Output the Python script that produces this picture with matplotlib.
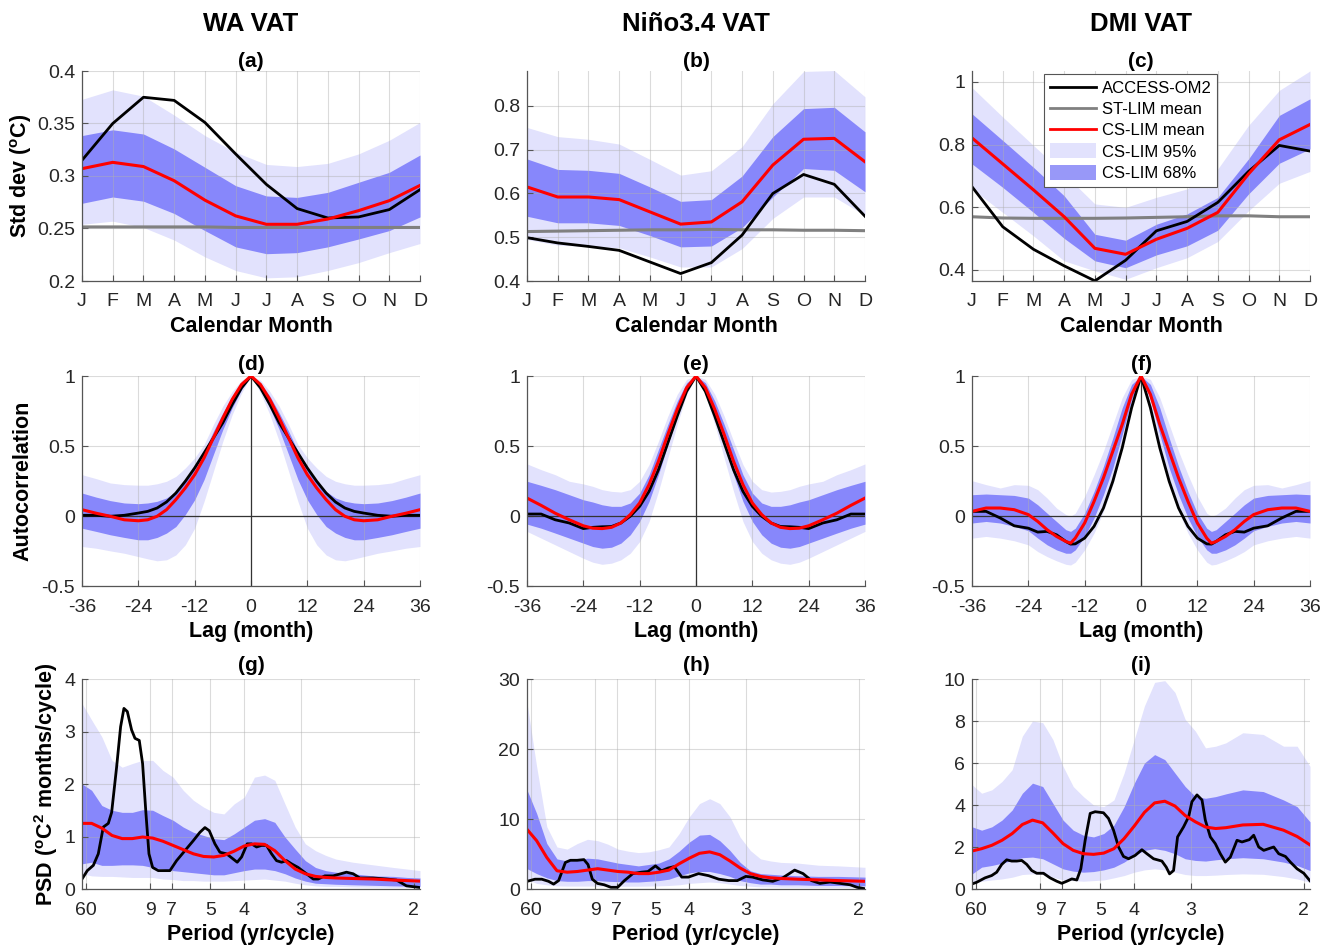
import numpy as np
import matplotlib
matplotlib.use("Agg")
import matplotlib.pyplot as plt
from matplotlib.lines import Line2D
from matplotlib.patches import Patch

plt.rcParams['font.family'] = ['Liberation Sans', 'DejaVu Sans']
plt.rcParams['mathtext.fontset'] = 'custom'
plt.rcParams['mathtext.rm'] = 'Liberation Sans'
plt.rcParams['mathtext.bf'] = 'Liberation Sans:bold'
plt.rcParams['axes.unicode_minus'] = False

C95 = '#e2e2fd'
C68 = '#8787fb'

# ---------------- row 1: monthly std dev ----------------
months = np.arange(1, 13)
month_labels = ['J', 'F', 'M', 'A', 'M', 'J', 'J', 'A', 'S', 'O', 'N', 'D']

wa_om2 = [0.315, 0.350, 0.375, 0.372, 0.351, 0.321, 0.292, 0.269, 0.260, 0.261, 0.268, 0.287]
wa_cs = [0.307, 0.313, 0.309, 0.2955, 0.277, 0.262, 0.254, 0.254, 0.259, 0.267, 0.2765, 0.291]
wa_st = [0.2515, 0.2515, 0.2515, 0.2515, 0.2515, 0.251, 0.251, 0.251, 0.251, 0.251, 0.251, 0.251]
wa_u95 = [0.373, 0.382, 0.376, 0.358, 0.3385, 0.3226, 0.311, 0.309, 0.312, 0.321, 0.334, 0.351]
wa_u68 = [0.3385, 0.344, 0.340, 0.3258, 0.3083, 0.2908, 0.281, 0.2796, 0.2844, 0.294, 0.3035, 0.320]
wa_l68 = [0.274, 0.280, 0.276, 0.2643, 0.248, 0.2325, 0.226, 0.227, 0.2325, 0.240, 0.248, 0.261]
wa_l95 = [0.254, 0.257, 0.251, 0.239, 0.223, 0.210, 0.203, 0.204, 0.210, 0.2175, 0.227, 0.2357]

ni_om2 = [0.499, 0.487, 0.479, 0.470, 0.4435, 0.417, 0.442, 0.505, 0.600, 0.6435, 0.621, 0.548]
ni_cs = [0.615, 0.592, 0.592, 0.586, 0.558, 0.530, 0.535, 0.581, 0.665, 0.724, 0.726, 0.6725]
ni_st = [0.513, 0.514, 0.515, 0.516, 0.517, 0.517, 0.518, 0.517, 0.517, 0.516, 0.516, 0.515]
ni_u95 = [0.751, 0.730, 0.724, 0.713, 0.678, 0.642, 0.652, 0.707, 0.805, 0.879, 0.881, 0.821]
ni_u68 = [0.679, 0.655, 0.653, 0.646, 0.615, 0.582, 0.586, 0.640, 0.730, 0.794, 0.797, 0.741]
ni_l68 = [0.548, 0.533, 0.533, 0.527, 0.504, 0.478, 0.480, 0.522, 0.592, 0.657, 0.653, 0.604]
ni_l95 = [0.495, 0.482, 0.479, 0.476, 0.455, 0.432, 0.432, 0.474, 0.543, 0.592, 0.592, 0.550]

dmi_om2 = [0.665, 0.537, 0.465, 0.412, 0.364, 0.430, 0.524, 0.554, 0.615, 0.714, 0.797, 0.779]
dmi_cs = [0.821, 0.738, 0.655, 0.569, 0.468, 0.449, 0.497, 0.532, 0.583, 0.706, 0.815, 0.864]
dmi_st = [0.569, 0.565, 0.564, 0.564, 0.564, 0.565, 0.567, 0.569, 0.572, 0.572, 0.569, 0.569]
dmi_u95 = [0.982, 0.888, 0.797, 0.706, 0.610, 0.599, 0.631, 0.658, 0.722, 0.861, 0.973, 1.035]
dmi_u68 = [0.898, 0.813, 0.727, 0.636, 0.513, 0.494, 0.545, 0.578, 0.631, 0.754, 0.893, 0.946]
dmi_l68 = [0.738, 0.663, 0.583, 0.500, 0.428, 0.406, 0.447, 0.476, 0.526, 0.642, 0.740, 0.786]
dmi_l95 = [0.658, 0.583, 0.508, 0.428, 0.396, 0.369, 0.406, 0.438, 0.490, 0.588, 0.676, 0.714]

# ---------------- row 2: autocorrelation (lag >= 0, symmetric) ----------------
lags_de = [0, 2, 4, 6, 8, 10, 12, 14, 16, 18, 20, 22, 24, 27, 30, 33, 36]
lags_f = [0, 2, 4, 6, 8, 10, 12, 14, 15, 16, 18, 20, 22, 24, 27, 30, 33, 36]

d_om2 = [1, 0.916, 0.797, 0.666, 0.558, 0.45, 0.343, 0.248, 0.164, 0.10, 0.057, 0.033, 0.021, 0.005, -0.002, 0.005, 0.005]
d_cs = [1, 0.94, 0.833, 0.70, 0.558, 0.415, 0.295, 0.20, 0.117, 0.045, -0.002, -0.027, -0.034, -0.027, -0.002, 0.02, 0.045]
d_u95 = [1, 0.97, 0.89, 0.785, 0.654, 0.51, 0.415, 0.343, 0.283, 0.248, 0.23, 0.22, 0.22, 0.224, 0.236, 0.267, 0.295]
d_u68 = [1, 0.95, 0.857, 0.737, 0.606, 0.463, 0.343, 0.248, 0.176, 0.129, 0.105, 0.093, 0.088, 0.093, 0.11, 0.135, 0.164]
d_l68 = [1, 0.904, 0.773, 0.618, 0.44, 0.26, 0.116, 0.01, -0.075, -0.122, -0.153, -0.17, -0.17, -0.153, -0.134, -0.11, -0.087]
d_l95 = [1, 0.88, 0.725, 0.534, 0.32, 0.104, -0.087, -0.206, -0.278, -0.313, -0.32, -0.306, -0.29, -0.266, -0.249, -0.23, -0.218]

e_om2 = [1, 0.89, 0.713, 0.522, 0.33, 0.176, 0.069, -0.002, -0.05, -0.075, -0.077, -0.081, -0.09, -0.05, -0.027, 0.014, 0.014]
e_cs = [1, 0.916, 0.761, 0.582, 0.39, 0.224, 0.093, 0.01, -0.05, -0.081, -0.09, -0.087, -0.07, -0.027, 0.02, 0.076, 0.128]
e_u95 = [1, 0.976, 0.869, 0.713, 0.534, 0.367, 0.248, 0.188, 0.171, 0.176, 0.188, 0.212, 0.229, 0.248, 0.295, 0.331, 0.372]
e_u68 = [1, 0.952, 0.821, 0.654, 0.475, 0.295, 0.164, 0.093, 0.069, 0.069, 0.08, 0.10, 0.116, 0.152, 0.188, 0.219, 0.248]
e_l68 = [1, 0.89, 0.713, 0.51, 0.295, 0.104, -0.039, -0.134, -0.194, -0.223, -0.23, -0.218, -0.194, -0.158, -0.122, -0.087, -0.058]
e_l95 = [1, 0.869, 0.654, 0.415, 0.176, -0.039, -0.182, -0.266, -0.313, -0.337, -0.345, -0.33, -0.302, -0.254, -0.206, -0.158, -0.11]

f_om2 = [1, 0.773, 0.487, 0.248, 0.057, -0.074, -0.158, -0.199, -0.201, -0.182, -0.134, -0.11, -0.115, -0.087, -0.07, -0.014, 0.033, 0.033]
f_cs = [1, 0.869, 0.654, 0.463, 0.272, 0.104, -0.05, -0.158, -0.194, -0.182, -0.146, -0.098, -0.039, 0.01, 0.045, 0.057, 0.057, 0.033]
f_u95 = [1, 0.976, 0.845, 0.654, 0.463, 0.295, 0.14, 0.02, -0.002, 0.01, 0.057, 0.128, 0.188, 0.219, 0.224, 0.20, 0.224, 0.252]
f_u68 = [1, 0.94, 0.773, 0.558, 0.355, 0.176, 0.02, -0.087, -0.11, -0.098, -0.039, 0.02, 0.08, 0.128, 0.147, 0.152, 0.157, 0.152]
f_l68 = [1, 0.833, 0.582, 0.343, 0.152, -0.014, -0.146, -0.242, -0.266, -0.266, -0.242, -0.206, -0.158, -0.105, -0.074, -0.05, -0.039, -0.05]
f_l95 = [1, 0.773, 0.487, 0.224, 0.033, -0.122, -0.242, -0.33, -0.35, -0.345, -0.32, -0.29, -0.254, -0.206, -0.177, -0.158, -0.146, -0.158]

# ---------------- row 3: power spectra (frequency in cycles/yr) ----------------
freq = [0.011, 0.025, 0.04, 0.055, 0.07, 0.085, 0.10, 0.115, 0.13, 0.145, 0.16, 0.175, 0.19, 0.205,
        0.22, 0.235, 0.25, 0.265, 0.28, 0.295, 0.31, 0.325, 0.34, 0.355, 0.37, 0.385, 0.41, 0.44,
        0.47, 0.49, 0.509]

g_u95 = [3.53, 3.22, 2.9, 2.45, 2.32, 2.39, 2.45, 2.45, 2.26, 2.13, 1.88, 1.69, 1.56, 1.46, 1.43, 1.62,
         1.75, 2.13, 2.17, 2.07, 1.62, 1.18, 0.86, 0.73, 0.64, 0.57, 0.51, 0.46, 0.41, 0.38, 0.35]
g_u68 = [2.0, 1.88, 1.59, 1.5, 1.46, 1.46, 1.51, 1.5, 1.4, 1.31, 1.18, 1.08, 1.02, 0.96, 0.94, 1.05,
         1.18, 1.31, 1.34, 1.27, 0.99, 0.76, 0.54, 0.41, 0.35, 0.32, 0.29, 0.25, 0.24, 0.22, 0.21]
g_l68 = [0.48, 0.51, 0.45, 0.45, 0.46, 0.46, 0.45, 0.41, 0.38, 0.35, 0.33, 0.31, 0.29, 0.27, 0.27, 0.31,
         0.35, 0.38, 0.38, 0.35, 0.29, 0.21, 0.15, 0.11, 0.10, 0.09, 0.08, 0.07, 0.06, 0.055, 0.05]
g_l95 = [0.29, 0.25, 0.24, 0.24, 0.23, 0.22, 0.22, 0.22, 0.19, 0.18, 0.16, 0.16, 0.15, 0.15, 0.15, 0.16,
         0.17, 0.18, 0.19, 0.17, 0.15, 0.11, 0.08, 0.06, 0.05, 0.05, 0.04, 0.035, 0.03, 0.03, 0.03]
g_cs = [1.25, 1.25, 1.16, 1.02, 0.96, 0.96, 0.99, 0.97, 0.91, 0.83, 0.75, 0.67, 0.62, 0.61, 0.64, 0.72,
        0.82, 0.86, 0.85, 0.73, 0.54, 0.38, 0.29, 0.24, 0.22, 0.21, 0.20, 0.19, 0.17, 0.16, 0.15]
g_freq = [0.0118, 0.0186, 0.0275, 0.0348, 0.0422, 0.0496, 0.0545, 0.0618, 0.0677, 0.0726, 0.0776, 0.0839,
          0.0889, 0.0952, 0.1001, 0.1051, 0.1095, 0.1149, 0.1232, 0.1404, 0.1502, 0.1625, 0.1748, 0.1846,
          0.1920, 0.1984, 0.2067, 0.2141, 0.2239, 0.2337, 0.2396, 0.2460, 0.2543, 0.2607, 0.2681, 0.2754,
          0.2828, 0.2902, 0.2975, 0.3049, 0.3123, 0.3196, 0.3294, 0.3417, 0.3516, 0.3589, 0.3687, 0.3810,
          0.4006, 0.4105, 0.4203, 0.4399, 0.4596, 0.4743, 0.4890, 0.5077]
g_om2 = [0.21, 0.35, 0.45, 0.67, 1.18, 1.25, 1.46, 2.32, 3.09, 3.44, 3.38, 3.03, 2.87, 2.83, 2.39, 1.43,
         0.67, 0.41, 0.35, 0.35, 0.54, 0.73, 0.92, 1.08, 1.17, 1.11, 0.86, 0.70, 0.67, 0.57, 0.51, 0.61,
         0.86, 0.86, 0.80, 0.83, 0.83, 0.67, 0.54, 0.51, 0.54, 0.48, 0.41, 0.29, 0.19, 0.19, 0.25, 0.25,
         0.32, 0.29, 0.21, 0.21, 0.19, 0.17, 0.06, 0.03]

h_u95 = [26.5, 17.5, 8.9, 6.0, 5.7, 6.5, 7.1, 6.9, 6.4, 5.7, 5.4, 5.2, 5.3, 5.6, 6.0, 7.9, 10.3, 12.2,
         12.9, 12.2, 10.3, 7.4, 5.5, 4.3, 4.0, 3.8, 3.7, 3.4, 3.3, 3.2, 3.1]
h_u68 = [14.1, 10.8, 6.5, 4.3, 4.0, 4.2, 4.4, 4.3, 4.0, 3.7, 3.5, 3.3, 3.5, 3.7, 4.3, 5.4, 6.7, 7.7,
         7.8, 6.9, 5.5, 3.8, 2.6, 2.2, 2.1, 2.0, 1.9, 1.8, 1.8, 1.75, 1.7]
h_l68 = [2.9, 2.2, 1.6, 1.2, 1.1, 1.1, 1.2, 1.2, 1.1, 1.05, 1.0, 1.0, 1.1, 1.2, 1.4, 1.9, 2.3, 2.5,
         2.5, 2.2, 1.8, 1.2, 0.9, 0.7, 0.7, 0.6, 0.6, 0.5, 0.5, 0.47, 0.45]
h_l95 = [1.4, 0.8, 0.6, 0.45, 0.42, 0.42, 0.42, 0.42, 0.4, 0.4, 0.4, 0.4, 0.42, 0.45, 0.5, 0.6, 0.8, 0.9,
         1.0, 0.9, 0.7, 0.5, 0.4, 0.3, 0.28, 0.25, 0.24, 0.22, 0.21, 0.2, 0.2]
h_cs = [8.5, 6.9, 4.5, 2.6, 2.4, 2.5, 2.7, 2.9, 2.7, 2.5, 2.4, 2.2, 2.2, 2.4, 2.7, 3.6, 4.4, 5.1,
        5.3, 4.9, 4.0, 3.0, 2.2, 1.8, 1.6, 1.5, 1.4, 1.3, 1.2, 1.15, 1.1]
h_freq = [0.0112, 0.0226, 0.0326, 0.0425, 0.0500, 0.0574, 0.0674, 0.0748, 0.0848, 0.0947, 0.1007, 0.1071,
          0.1146, 0.1246, 0.1345, 0.1444, 0.1544, 0.1668, 0.1792, 0.1891, 0.2001, 0.2090, 0.2190, 0.2279,
          0.2389, 0.2488, 0.2637, 0.2786, 0.2935, 0.3084, 0.3208, 0.3333, 0.3432, 0.3581, 0.3730, 0.3879,
          0.4053, 0.4177, 0.4301, 0.4426, 0.4575, 0.4724, 0.4873, 0.4973, 0.508]
h_om2 = [1.1, 1.4, 1.4, 1.1, 0.7, 1.2, 3.8, 4.1, 4.1, 4.2, 3.5, 1.4, 0.8, 0.6, 0.24, 0.24, 1.2, 2.2,
         2.4, 2.5, 3.3, 2.6, 3.0, 3.2, 1.7, 1.7, 2.2, 1.9, 1.4, 1.2, 1.2, 1.8, 1.7, 1.3, 1.1, 1.6, 2.7,
         2.2, 1.2, 0.8, 1.0, 0.8, 0.6, 0.24, 0.05]

i_u95 = [4.96, 4.56, 4.72, 5.12, 5.68, 7.28, 8.0, 7.92, 7.12, 5.84, 4.88, 4.4, 4.0, 3.92, 4.24, 5.52,
         7.12, 8.72, 9.84, 9.92, 9.36, 8.08, 7.52, 6.72, 6.8, 6.96, 7.44, 7.36, 6.8, 6.8, 5.84]
i_u68 = [2.96, 2.8, 2.96, 3.28, 3.76, 4.56, 5.04, 4.88, 4.08, 3.28, 2.8, 2.56, 2.48, 2.64, 3.04, 3.92,
         5.04, 6.0, 6.4, 6.16, 5.52, 4.88, 4.4, 4.32, 4.4, 4.53, 4.72, 4.64, 4.24, 3.92, 3.2]
i_l68 = [0.72, 1.04, 1.12, 1.23, 1.36, 1.49, 1.52, 1.44, 1.2, 0.96, 0.85, 0.8, 0.83, 0.91, 1.04, 1.28,
         1.6, 1.84, 1.92, 1.84, 1.68, 1.44, 1.36, 1.33, 1.39, 1.44, 1.49, 1.44, 1.28, 1.12, 0.88]
i_l95 = [0.24, 0.37, 0.43, 0.48, 0.56, 0.69, 0.72, 0.69, 0.56, 0.43, 0.4, 0.37, 0.4, 0.43, 0.53, 0.64,
         0.8, 0.91, 0.96, 0.91, 0.8, 0.69, 0.64, 0.64, 0.66, 0.69, 0.72, 0.7, 0.59, 0.48, 0.32]
i_cs = [1.81, 1.92, 2.08, 2.32, 2.64, 3.07, 3.28, 3.15, 2.67, 2.16, 1.84, 1.68, 1.65, 1.71, 1.92, 2.4,
        3.0, 3.65, 4.1, 4.18, 3.95, 3.5, 3.2, 2.95, 2.88, 2.92, 3.05, 3.08, 2.8, 2.5, 2.1]
i_freq = [0.0108, 0.0177, 0.0300, 0.0398, 0.0472, 0.0546, 0.0619, 0.0693, 0.0767, 0.0841, 0.0915, 0.0988,
          0.1062, 0.1161, 0.1259, 0.1357, 0.1431, 0.1505, 0.1579, 0.1653, 0.1712, 0.1776, 0.1850, 0.1923,
          0.2046, 0.2120, 0.2194, 0.2268, 0.2341, 0.2415, 0.2513, 0.2612, 0.2686, 0.2784, 0.2907, 0.2971,
          0.3020, 0.3079, 0.3138, 0.3227, 0.3301, 0.3350, 0.3424, 0.3498, 0.3547, 0.3621, 0.3694, 0.3768,
          0.3842, 0.3916, 0.4014, 0.4088, 0.4196, 0.4260, 0.4334, 0.4408, 0.4481, 0.4555, 0.4629, 0.4728,
          0.4801, 0.4900, 0.4998, 0.5087]
i_om2 = [0.24, 0.32, 0.53, 0.64, 0.8, 1.17, 1.39, 1.33, 1.33, 1.36, 1.17, 0.88, 0.75, 0.75, 0.53, 0.37,
         0.27, 0.37, 0.48, 0.43, 0.96, 2.32, 3.6, 3.68, 3.63, 3.36, 2.8, 2.0, 1.55, 1.44, 1.6, 1.87, 1.68,
         1.44, 1.33, 1.04, 0.72, 0.88, 2.48, 2.96, 3.44, 4.16, 4.48, 4.24, 3.28, 2.48, 2.16, 1.68, 1.28,
         1.52, 2.32, 2.24, 2.35, 2.56, 2.0, 1.84, 1.92, 2.0, 1.68, 1.55, 1.28, 0.96, 0.75, 0.4]

period_ticks = [60, 9, 7, 5, 4, 3, 2]

col_titles = ['WA VAT', 'Niño3.4 VAT', 'DMI VAT']
letters = 'abcdefghi'

TICK_FS = 14
LABEL_FS = 15.5
LETTER_FS = 15


def style_axes(ax):
    ax.grid(True, color='#b0b0b0', alpha=0.45, lw=0.8)
    ax.set_axisbelow('line')
    for s in ['top', 'right']:
        ax.spines[s].set_visible(False)
    for s in ['left', 'bottom']:
        ax.spines[s].set_color('#555555')
        ax.spines[s].set_linewidth(0.9)
    ax.tick_params(direction='in', length=4, width=0.8, color='#555555',
                   labelsize=TICK_FS, labelcolor='#262626')
    ax.tick_params(axis='x', pad=9)
    ax.tick_params(axis='y', pad=5)


def draw_band(ax, x, l95, u95, l68, u68):
    ax.fill_between(x, l95, u95, color=C95, lw=0, zorder=1)
    ax.fill_between(x, l68, u68, color=C68, lw=0, zorder=1.1)


def mirror(lags, vals):
    lags = np.asarray(lags, float)
    vals = np.asarray(vals, float)
    return np.concatenate([-lags[:0:-1], lags]), np.concatenate([vals[:0:-1], vals])


fig = plt.figure(figsize=(13.36, 9.46), dpi=100)
lefts = [82 / 1336, 527 / 1336, 972 / 1336]
bottoms = [1 - 281 / 946, 1 - 586 / 946, 1 - 889 / 946]
w, h = 338 / 1336, 210 / 946
axes = [[fig.add_axes([lefts[c], bottoms[r], w, h]) for c in range(3)] for r in range(3)]

# row 1
row1 = [
    (wa_om2, wa_cs, wa_st, wa_u95, wa_u68, wa_l68, wa_l95, (0.2, 0.4), [0.2, 0.25, 0.3, 0.35, 0.4],
     ['0.2', '0.25', '0.3', '0.35', '0.4']),
    (ni_om2, ni_cs, ni_st, ni_u95, ni_u68, ni_l68, ni_l95, (0.4, 0.88), [0.4, 0.5, 0.6, 0.7, 0.8],
     ['0.4', '0.5', '0.6', '0.7', '0.8']),
    (dmi_om2, dmi_cs, dmi_st, dmi_u95, dmi_u68, dmi_l68, dmi_l95, (0.3636, 1.035), [0.4, 0.6, 0.8, 1.0],
     ['0.4', '0.6', '0.8', '1']),
]
for c, (om2, cs, st, u95, u68, l68, l95, ylim, yt, ytl) in enumerate(row1):
    ax = axes[0][c]
    style_axes(ax)
    draw_band(ax, months, l95, u95, l68, u68)
    ax.plot(months, st, color='#808080', lw=2.2, zorder=2)
    ax.plot(months, om2, color='k', lw=2, zorder=2.1)
    ax.plot(months, cs, color='#ff0000', lw=2.2, zorder=2.2)
    ax.set_xlim(1, 12)
    ax.set_ylim(*ylim)
    ax.set_xticks(months)
    ax.set_xticklabels(month_labels)
    ax.set_yticks(yt)
    ax.set_yticklabels(ytl)
    ax.set_xlabel('Calendar Month', fontsize=LABEL_FS, fontweight='bold', labelpad=4)
    ax.set_title('(' + letters[c] + ')', fontsize=LETTER_FS, fontweight='bold', pad=3)
    ax.text(0.5, 1.225, col_titles[c], transform=ax.transAxes, ha='center', va='center',
            fontsize=18.5, fontweight='bold')
axes[0][0].set_ylabel('Std dev ($^{\\mathbf{o}}$C)', fontsize=LABEL_FS, fontweight='bold', labelpad=2)

handles = [Line2D([], [], color='k', lw=2), Line2D([], [], color='#808080', lw=2),
           Line2D([], [], color='#ff0000', lw=2), Patch(facecolor=C95, edgecolor='none'),
           Patch(facecolor='#9898f8', edgecolor='none')]
leg = axes[0][2].legend(handles, ['ACCESS-OM2', 'ST-LIM mean', 'CS-LIM mean', 'CS-LIM 95%', 'CS-LIM 68%'],
                        loc='upper center', bbox_to_anchor=(0.47, 0.985), fontsize=12, frameon=True,
                        fancybox=False, framealpha=1, edgecolor='#555555', borderpad=0.35,
                        labelspacing=0.3, handlelength=2.75, handleheight=1.0, handletextpad=0.35,
                        borderaxespad=0)
leg.get_frame().set_linewidth(0.8)

# row 2
row2 = [
    (lags_de, d_om2, d_cs, d_u95, d_u68, d_l68, d_l95),
    (lags_de, e_om2, e_cs, e_u95, e_u68, e_l68, e_l95),
    (lags_f, f_om2, f_cs, f_u95, f_u68, f_l68, f_l95),
]
for c, (lg, om2, cs, u95, u68, l68, l95) in enumerate(row2):
    ax = axes[1][c]
    style_axes(ax)
    x, u95m = mirror(lg, u95)
    _, u68m = mirror(lg, u68)
    _, l68m = mirror(lg, l68)
    _, l95m = mirror(lg, l95)
    _, om2m = mirror(lg, om2)
    _, csm = mirror(lg, cs)
    draw_band(ax, x, l95m, u95m, l68m, u68m)
    ax.axhline(0, color='#333333', lw=0.9, zorder=1.8)
    ax.axvline(0, color='#333333', lw=0.9, zorder=1.8)
    ax.plot(x, om2m, color='k', lw=2, zorder=2.1)
    ax.plot(x, csm, color='#ff0000', lw=2.2, zorder=2.2)
    ax.set_xlim(-36, 36)
    ax.set_ylim(-0.5, 1)
    ax.set_xticks(np.arange(-36, 37, 12))
    ax.set_yticks([-0.5, 0, 0.5, 1])
    ax.set_yticklabels(['-0.5', '0', '0.5', '1'])
    ax.set_xlabel('Lag (month)', fontsize=LABEL_FS, fontweight='bold', labelpad=4)
    ax.set_title('(' + letters[3 + c] + ')', fontsize=LETTER_FS, fontweight='bold', pad=4)
axes[1][0].set_ylabel('Autocorrelation', fontsize=LABEL_FS, fontweight='bold', labelpad=6)

# row 3
row3 = [
    (g_freq, g_om2, g_cs, g_u95, g_u68, g_l68, g_l95, (0, 4), [0, 1, 2, 3, 4]),
    (h_freq, h_om2, h_cs, h_u95, h_u68, h_l68, h_l95, (0, 30), [0, 10, 20, 30]),
    (i_freq, i_om2, i_cs, i_u95, i_u68, i_l68, i_l95, (0, 10), [0, 2, 4, 6, 8, 10]),
]
for c, (fo, om2, cs, u95, u68, l68, l95, ylim, yt) in enumerate(row3):
    ax = axes[2][c]
    style_axes(ax)
    draw_band(ax, freq, l95, u95, l68, u68)
    ax.plot(fo, om2, color='k', lw=2, zorder=2.1)
    ax.plot(freq, cs, color='#ff0000', lw=2.2, zorder=2.2)
    ax.set_xlim(0.0108, 0.509)
    ax.set_ylim(*ylim)
    ax.set_xticks([1.0 / p for p in period_ticks])
    ax.set_xticklabels([str(p) for p in period_ticks])
    ax.set_yticks(yt)
    ax.set_xlabel('Period (yr/cycle)', fontsize=LABEL_FS, fontweight='bold', labelpad=4)
    ax.set_title('(' + letters[6 + c] + ')', fontsize=LETTER_FS, fontweight='bold', pad=6)
axes[2][0].set_ylabel('PSD ($^{\\mathbf{o}}$C$^{\\mathbf{2}}$ months/cycle)', fontsize=LABEL_FS,
                      fontweight='bold', labelpad=3)

fig.savefig('out.png', dpi=100)
